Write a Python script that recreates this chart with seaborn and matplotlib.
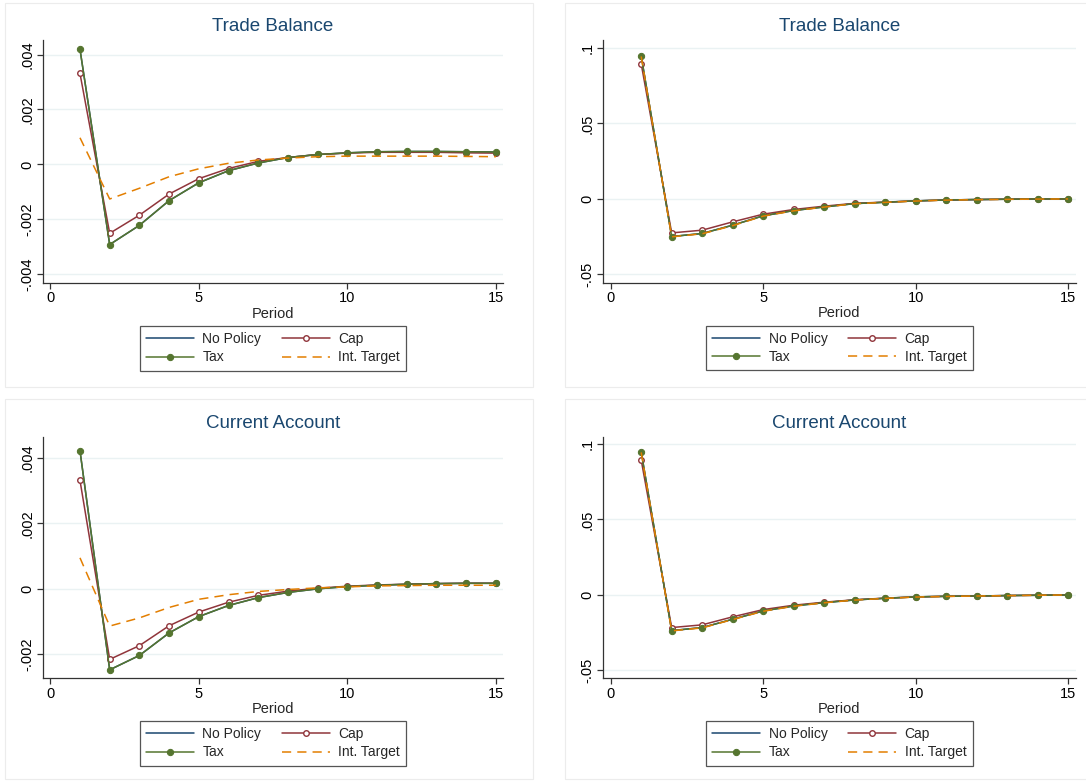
import matplotlib
matplotlib.use('Agg')
import matplotlib.pyplot as plt
import matplotlib.patches as patches
import matplotlib.ticker as mticker
import seaborn as sns
import numpy as np

sns.set_style('white')
plt.rcParams['font.family'] = ['Liberation Sans', 'DejaVu Sans']

# 기간
period = list(range(1, 16))

# 좌상단: Trade Balance (작은 스케일)
tb1_nopolicy = [0.00419, -0.00292, -0.00222, -0.00132, -0.00067, -0.00023, 0.00005, 0.00025,
                0.00036, 0.00042, 0.00046, 0.00047, 0.00047, 0.00046, 0.00045]
tb1_cap = [0.00331, -0.00251, -0.00185, -0.00108, -0.00052, -0.00015, 0.00011, 0.00025,
           0.00036, 0.00041, 0.00044, 0.00044, 0.00044, 0.00042, 0.00041]
tb1_tax = [0.00419, -0.00292, -0.00222, -0.00132, -0.00067, -0.00023, 0.00005, 0.00025,
           0.00036, 0.00042, 0.00046, 0.00047, 0.00047, 0.00046, 0.00045]
tb1_target = [0.00097, -0.00126, -0.00087, -0.00045, -0.00016, 0.00004, 0.00016, 0.00023,
              0.00028, 0.00030, 0.00030, 0.00030, 0.00030, 0.00029, 0.00028]

# 우상단: Trade Balance (큰 스케일)
tb2_nopolicy = [0.0947, -0.0249, -0.0229, -0.0174, -0.0112, -0.0077, -0.0053, -0.0031,
                -0.0022, -0.0013, -0.0007, -0.0004, -0.0002, 0.0000, 0.0000]
tb2_cap = [0.0896, -0.0225, -0.0207, -0.0152, -0.0101, -0.0070, -0.0048, -0.0029,
           -0.0021, -0.0013, -0.0007, -0.0004, -0.0002, 0.0000, 0.0000]
tb2_tax = [0.0947, -0.0249, -0.0229, -0.0174, -0.0112, -0.0077, -0.0053, -0.0031,
           -0.0022, -0.0013, -0.0007, -0.0004, -0.0002, 0.0000, 0.0000]
tb2_target = [0.0944, -0.0251, -0.0231, -0.0177, -0.0114, -0.0079, -0.0054, -0.0032,
              -0.0023, -0.0014, -0.0008, -0.0005, -0.0003, -0.0001, 0.0000]

# 좌하단: Current Account (작은 스케일)
ca1_nopolicy = [0.00422, -0.00249, -0.00205, -0.00136, -0.00086, -0.00052, -0.00028, -0.00012,
                -0.00001, 0.00006, 0.00010, 0.00013, 0.00015, 0.00016, 0.00016]
ca1_cap = [0.00331, -0.00217, -0.00175, -0.00114, -0.00072, -0.00042, -0.00021, -0.00008,
           0.00001, 0.00007, 0.00011, 0.00013, 0.00015, 0.00016, 0.00016]
ca1_tax = [0.00422, -0.00249, -0.00205, -0.00136, -0.00086, -0.00052, -0.00028, -0.00012,
           -0.00001, 0.00006, 0.00010, 0.00013, 0.00015, 0.00016, 0.00016]
ca1_target = [0.00094, -0.00115, -0.00090, -0.00058, -0.00033, -0.00019, -0.00009, -0.00003,
              0.00002, 0.00005, 0.00008, 0.00009, 0.00010, 0.00010, 0.00010]

# 우하단: Current Account (큰 스케일)
ca2_nopolicy = [0.0947, -0.0236, -0.0216, -0.0161, -0.0106, -0.0073, -0.0051, -0.0033,
                -0.0022, -0.0013, -0.0009, -0.0007, -0.0004, -0.0002, 0.0000]
ca2_cap = [0.0894, -0.0216, -0.0198, -0.0145, -0.0097, -0.0068, -0.0048, -0.0032,
           -0.0021, -0.0013, -0.0009, -0.0007, -0.0004, -0.0002, 0.0000]
ca2_tax = [0.0947, -0.0236, -0.0216, -0.0161, -0.0106, -0.0073, -0.0051, -0.0033,
           -0.0022, -0.0013, -0.0009, -0.0007, -0.0004, -0.0002, 0.0000]
ca2_target = [0.0944, -0.0238, -0.0218, -0.0163, -0.0108, -0.0075, -0.0052, -0.0034,
              -0.0023, -0.0014, -0.0010, -0.0007, -0.0005, -0.0002, 0.0000]

titles = ['Trade Balance', 'Trade Balance', 'Current Account', 'Current Account']
x_ticks = [0, 5, 10, 15]
small_ticks_top = [-0.004, -0.002, 0, 0.002, 0.004]
small_ticks_bot = [-0.002, 0, 0.002, 0.004]
big_ticks = [-0.05, 0, 0.05, 0.1]

# Stata s2color 색상
c_nopolicy = '#1a476f'
c_cap = '#90353b'
c_tax = '#55752f'
c_target = '#e37e00'
c_title = '#1a476f'
c_grid = '#eaf2f3'
c_axis = '#333333'

W, H = 1086, 782
fig = plt.figure(figsize=(W / 100, H / 100), dpi=100)


def px_axes(left, top, right, bottom):
    return fig.add_axes([left / W, 1 - bottom / H, (right - left) / W, (bottom - top) / H])


def fmt_stata(v, pos):
    if abs(v) < 1e-12:
        return '0'
    s = ('%.3f' % v).rstrip('0').rstrip('.')
    return s.replace('0.', '.', 1)


# 패널 테두리
for (l, t, r, b) in [(5, 3, 533, 387), (565, 3, 1090, 387), (5, 399, 533, 779), (565, 399, 1090, 779)]:
    fig.patches.append(patches.Rectangle((l / W, 1 - b / H), (r - l) / W, (b - t) / H,
                                         transform=fig.transFigure, fill=False,
                                         edgecolor='#ececec', linewidth=0.8))

panels = [
    (43, 40, 503, 283, (-0.245, 15.24), (-0.00432, 0.00453), small_ticks_top,
     tb1_nopolicy, tb1_cap, tb1_tax, tb1_target),
    (602.7, 40, 1076, 282.7, (-0.262, 15.26), (-0.0555, 0.1053), big_ticks,
     tb2_nopolicy, tb2_cap, tb2_tax, tb2_target),
    (43, 436.7, 503, 678.3, (-0.245, 15.24), (-0.00275, 0.00465), small_ticks_bot,
     ca1_nopolicy, ca1_cap, ca1_tax, ca1_target),
    (602.7, 436.7, 1076, 678.3, (-0.262, 15.26), (-0.0552, 0.1048), big_ticks,
     ca2_nopolicy, ca2_cap, ca2_tax, ca2_target),
]

for i, (l, t, r, b, xl, yl, yt, s_np, s_cap, s_tax, s_tg) in enumerate(panels):
    ax = px_axes(l, t, r, b)
    ax.set_facecolor('white')

    sns.lineplot(x=period, y=s_np, ax=ax, color=c_nopolicy, linewidth=1.1, label='No Policy')
    sns.lineplot(x=period, y=s_cap, ax=ax, color=c_cap, linewidth=1.1, marker='o',
                 markersize=4, markerfacecolor='white', markeredgecolor=c_cap,
                 markeredgewidth=1.0, label='Cap')
    sns.lineplot(x=period, y=s_tax, ax=ax, color=c_tax, linewidth=1.1, marker='o',
                 markersize=4.5, markerfacecolor=c_tax, markeredgecolor=c_tax, label='Tax')
    sns.lineplot(x=period, y=s_tg, ax=ax, color=c_target, linewidth=1.1,
                 linestyle=(0, (6, 4)), label='Int. Target')

    ax.set_xticks(x_ticks)
    ax.set_yticks(yt)
    ax.set_xlim(*xl)
    ax.set_ylim(*yl)
    ax.yaxis.set_major_formatter(mticker.FuncFormatter(fmt_stata))
    ax.grid(axis='y', color=c_grid, linewidth=1.0)
    ax.grid(axis='x', visible=False)
    for sp in ['top', 'right']:
        ax.spines[sp].set_visible(False)
    for sp in ['left', 'bottom']:
        ax.spines[sp].set_color(c_axis)
        ax.spines[sp].set_linewidth(0.9)
    ax.tick_params(axis='both', direction='out', length=4, width=0.9, color=c_axis,
                   labelsize=10.5, labelcolor='black', bottom=True, left=True, pad=2)
    for lab in ax.get_yticklabels():
        lab.set_rotation(90)
        lab.set_va('center')

    ax.set_title(titles[i], fontsize=13.5, color=c_title, pad=6.5)
    ax.set_xlabel('Period', fontsize=10.5, labelpad=1)
    ax.set_ylabel('')

    h, lb = ax.get_legend_handles_labels()
    order = [0, 2, 1, 3]
    anchor_y = -(326 - b) / (b - t) if False else -(326 - 283) / 243
    ax.legend([h[k] for k in order], [lb[k] for k in order], ncol=2,
              loc='upper center', bbox_to_anchor=(0.5, anchor_y), borderaxespad=0,
              frameon=True, fancybox=False, edgecolor='#555555', framealpha=1,
              fontsize=10, handlelength=3.45, columnspacing=1.5, handletextpad=0.6,
              borderpad=0.45, labelspacing=0.3)
    ax.get_legend().get_frame().set_linewidth(0.9)

fig.savefig('out.png', dpi=100, facecolor='white')
